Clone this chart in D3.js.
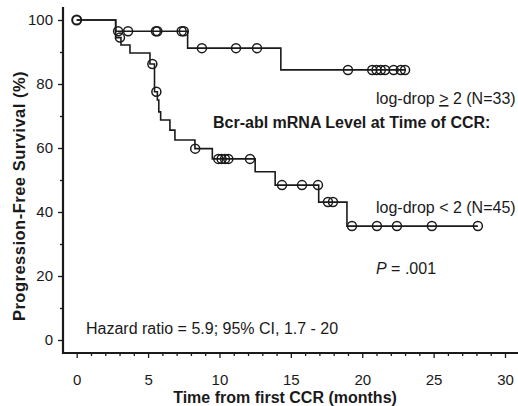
<!DOCTYPE html>
<html>
<head>
<meta charset="utf-8">
<script src="https://cdn.jsdelivr.net/npm/d3@7"></script>
<style>
  html, body { margin: 0; padding: 0; background: #fff; }
  svg { display: block; font-family: "Liberation Sans", Arial, sans-serif; }
</style>
</head>
<body>
<svg id="chart" width="518" height="406"></svg>
<script>
// ---- data ----
const xMajorTicks = [0, 5, 10, 15, 20, 25, 30];
const xMinorTicks = d3.range(0, 31, 1).filter(d => d % 5 !== 0);
const yMajorTicks = [0, 20, 40, 60, 80, 100];
const yMinorTicks = [10, 30, 50, 70, 90];

// log-drop >= 2 (N=33): [time of drop (months), survival (%) after drop]
const highDropSteps = [[2.73, 96.5], [7.77, 91.2], [14.3, 84.4]];
const highDropEnd = 23.0;
const highDropCensored = [2.9, 3.6, 5.55, 5.65, 7.35, 7.5, 8.77, 11.16, 12.63,
  19.0, 20.7, 21.0, 21.3, 21.6, 22.2, 22.7, 23.0];

// log-drop < 2 (N=45)
const lowDropSteps = [[2.73, 94.5], [3.1, 92.2], [3.73, 89.7], [5.13, 86.25], [5.45, 77.6],
  [5.65, 75], [5.75, 71.3], [5.88, 68.75], [6.53, 65.6], [6.88, 62.5], [8.28, 59.8],
  [9.5, 56.6], [12.5, 52.6], [13.9, 48.4], [16.95, 43.1], [18.93, 35.6]];
const lowDropEnd = 28.1;
const lowDropCensored = [3.03, 5.3, 5.58, 8.3, 9.92, 10.15, 10.39, 10.62, 12.14,
  14.38, 15.78, 16.9, 17.6, 17.95, 19.28, 21.03, 22.43, 24.88, 28.1];

// ---- drawing ----
const svg = d3.select("#chart");
const x = d3.scaleLinear().domain([0, 30]).range([76.7, 505]);
const y = d3.scaleLinear().domain([0, 100]).range([340, 20]);
const axisX = 63, axisY = 353;
const ink = "#1a1a1a";
const fontFam = '"Liberation Sans", Arial, sans-serif';

function seriesPoints(steps, end) {
  const pts = [[0, 100]];
  steps.forEach(s => pts.push(s));
  pts.push([end, steps[steps.length - 1][1]]);
  return pts;
}
function valueAt(steps, t) {
  let v = 100;
  steps.forEach(s => { if (s[0] <= t) v = s[1]; });
  return v;
}
const line = d3.line().x(d => x(d[0])).y(d => y(d[1])).curve(d3.curveStepAfter);

function drawSeries(steps, end, censored) {
  svg.append("path")
    .attr("d", line(seriesPoints(steps, end)))
    .attr("fill", "none").attr("stroke", ink).attr("stroke-width", 1.6);
  svg.append("g").selectAll("circle").data(censored).join("circle")
    .attr("cx", d => x(d)).attr("cy", d => y(valueAt(steps, d)))
    .attr("r", 4.5).attr("fill", "none").attr("stroke", ink).attr("stroke-width", 1.5);
}
svg.append("circle").attr("cx", x(0)).attr("cy", y(100)).attr("r", 4.5)
  .attr("fill", "none").attr("stroke", ink).attr("stroke-width", 2);
drawSeries(highDropSteps, highDropEnd, highDropCensored);
drawSeries(lowDropSteps, lowDropEnd, lowDropCensored);

// axes
const gx = svg.append("g").attr("transform", `translate(0,${axisY})`);
gx.call(d3.axisBottom(x).tickValues(xMajorTicks).tickSize(5).tickPadding(16));
gx.append("g").call(d3.axisBottom(x).tickValues(xMinorTicks).tickSize(3).tickFormat(""));
gx.selectAll(".domain").remove();
gx.selectAll("line").attr("stroke", ink).attr("stroke-width", 1.3);
gx.selectAll("text").attr("font-size", 15).attr("fill", ink).attr("font-family", fontFam);

const gy = svg.append("g").attr("transform", `translate(${axisX},0)`);
gy.call(d3.axisLeft(y).tickValues(yMajorTicks).tickSize(5).tickPadding(5));
gy.append("g").call(d3.axisLeft(y).tickValues(yMinorTicks).tickSize(3).tickFormat(""));
gy.selectAll(".domain").remove();
gy.selectAll("line").attr("stroke", ink).attr("stroke-width", 1.3);
gy.selectAll("text").attr("font-size", 15).attr("fill", ink).attr("font-family", fontFam);

svg.append("path")
  .attr("d", `M${axisX},7 V${axisY} H518`)
  .attr("fill", "none").attr("stroke", ink).attr("stroke-width", 2.2);

// labels
svg.append("text").attr("x", 285).attr("y", 403).attr("text-anchor", "middle")
  .attr("font-size", 16).attr("font-weight", "bold").attr("fill", ink)
  .text("Time from first CCR (months)");
svg.append("text").attr("transform", "translate(25,196) rotate(-90)").attr("text-anchor", "middle")
  .attr("font-size", 16.5).attr("font-weight", "bold").attr("letter-spacing", 0.5).attr("fill", ink)
  .text("Progression-Free Survival (%)");

const t1 = svg.append("text").attr("x", 376).attr("y", 104).attr("font-size", 16).attr("fill", ink);
t1.append("tspan").text("log-drop ");
t1.append("tspan").attr("text-decoration", "underline").text(">");
t1.append("tspan").text(" 2 (N=33)");

svg.append("text").attr("x", 213).attr("y", 128).attr("font-size", 16).attr("font-weight", "bold")
  .attr("fill", ink).text("Bcr-abl mRNA Level at Time of CCR:");

svg.append("text").attr("x", 376).attr("y", 213).attr("font-size", 16).attr("fill", ink)
  .text("log-drop < 2 (N=45)");

const tp = svg.append("text").attr("x", 376).attr("y", 274).attr("font-size", 16).attr("fill", ink);
tp.append("tspan").attr("font-style", "italic").text("P");
tp.append("tspan").text(" = .001");

svg.append("text").attr("x", 86).attr("y", 334).attr("font-size", 16).attr("fill", ink)
  .text("Hazard ratio = 5.9; 95% CI, 1.7 - 20");
</script>
</body>
</html>
